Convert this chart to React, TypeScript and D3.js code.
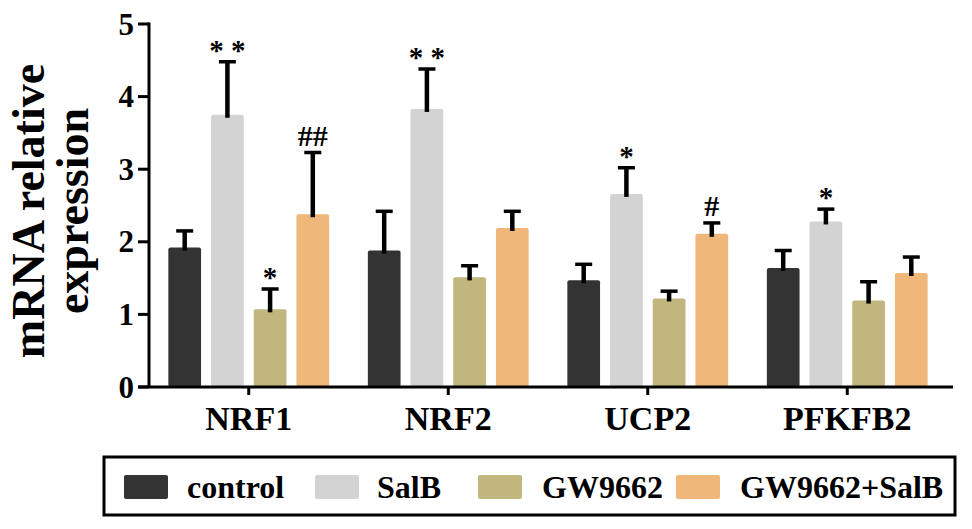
import React from "react";
import * as d3 from "d3";

const categories = ["NRF1", "NRF2", "UCP2", "PFKFB2"];
const groups = ["control", "SalB", "GW9662", "GW9662+SalB"];
const colors = ["#333333", "#d3d3d3", "#c1b67e", "#f0b77b"];
// mean values per group (rows) per category (columns)
const controlMeans = [1.92, 1.88, 1.47, 1.64];
const salbMeans = [3.75, 3.83, 2.66, 2.28];
const gwMeans = [1.07, 1.51, 1.22, 1.19];
const comboMeans = [2.38, 2.19, 2.11, 1.57];
// upper error bar ends
const controlErr = [2.15, 2.42, 1.69, 1.88];
const salbErr = [4.48, 4.38, 3.02, 2.45];
const gwErr = [1.35, 1.67, 1.32, 1.45];
const comboErr = [3.23, 2.42, 2.26, 1.79];
// significance marks
const controlSig = ["", "", "", ""];
const salbSig = ["* *", "* *", "*", "*"];
const gwSig = ["*", "", "", ""];
const comboSig = ["##", "", "#", ""];
const yTicks = [0, 1, 2, 3, 4, 5];
const yTitle = ["mRNA relative", "expression"];

const means = [controlMeans, salbMeans, gwMeans, comboMeans];
const errs = [controlErr, salbErr, gwErr, comboErr];
const sigs = [controlSig, salbSig, gwSig, comboSig];

const FONT = "'Liberation Serif', 'Times New Roman', serif";

export default function App() {
  const axisX = 149;
  const axisY0 = 387;
  const y = d3.scaleLinear().domain([0, 5]).range([387, 24]);
  const x0 = d3.scaleBand().domain(categories).range([149, 947]).paddingInner(0).paddingOuter(0);
  const inner = d3.scaleBand().domain(groups).range([-80.4, 80.4]).paddingInner(0.234).paddingOuter(0);
  const bw = inner.bandwidth();

  const legendSwatchX = [124, 315, 478, 676];
  const legendTextX = [187, 377, 542, 740];

  return (
    <svg
      width={972}
      height={529}
      style={{ position: "absolute", left: 0, top: 0, background: "#fff" }}
      fontFamily={FONT}
    >
      <rect x={0} y={0} width={972} height={529} fill="#fff" />
      {/* y title */}
      {yTitle.map((t, i) => (
        <text
          key={t}
          transform={`translate(${44 + i * 44},211) rotate(-90)`}
          textAnchor="middle"
          fontSize={46}
          fontWeight="bold"
          fill="#000"
        >
          {t}
        </text>
      ))}
      {/* bars */}
      {categories.map((c, ci) => (
        <g key={c}>
          {groups.map((g, gi) => {
            const bx = (x0(c) as number) + x0.bandwidth() / 2 + (inner(g) as number);
            const cx = bx + bw / 2;
            const v = means[gi][ci];
            const e = errs[gi][ci];
            const s = sigs[gi][ci];
            const isHash = s.includes("#");
            return (
              <g key={g}>
                <rect x={bx} y={y(v)} width={bw} height={axisY0 - y(v)} fill={colors[gi]} rx={2} />
                <line x1={cx} x2={cx} y1={y(v) + 3} y2={y(e)} stroke="#000" strokeWidth={4.5} />
                <line x1={cx - 8.5} x2={cx + 8.5} y1={y(e)} y2={y(e)} stroke="#000" strokeWidth={3.5} />
                {s && (
                  <text
                    x={cx}
                    y={isHash ? y(e) - 7 : y(e) - 2}
                    textAnchor="middle"
                    fontSize={isHash ? 30 : 29}
                    fontWeight="bold"
                    fill="#000"
                  >
                    {s}
                  </text>
                )}
              </g>
            );
          })}
        </g>
      ))}
      {/* axes */}
      <line x1={axisX} x2={axisX} y1={y(5) - 1.5} y2={axisY0} stroke="#000" strokeWidth={3} />
      <line x1={138} x2={953} y1={axisY0} y2={axisY0} stroke="#000" strokeWidth={3} />
      {yTicks.map((t) => (
        <g key={t}>
          <line x1={138} x2={axisX} y1={y(t)} y2={y(t)} stroke="#000" strokeWidth={3} />
          <text x={134} y={y(t) + 10.5} textAnchor="end" fontSize={31} fontWeight="bold" fill="#000">
            {t}
          </text>
        </g>
      ))}
      {categories.map((c) => {
        const cx = (x0(c) as number) + x0.bandwidth() / 2;
        return (
          <g key={c}>
            <line x1={cx} x2={cx} y1={axisY0} y2={395} stroke="#000" strokeWidth={3} />
            <text x={cx} y={430} textAnchor="middle" fontSize={34} fontWeight="bold" fill="#000">
              {c}
            </text>
          </g>
        );
      })}
      {/* legend */}
      <rect x={104} y={457} width={851} height={58} fill="#fff" stroke="#000" strokeWidth={3} />
      {groups.map((g, gi) => (
        <g key={g}>
          <rect x={legendSwatchX[gi]} y={475} width={44} height={24} rx={2} fill={colors[gi]} />
          <text x={legendTextX[gi]} y={498} fontSize={32} fontWeight="bold" fill="#000">
            {g}
          </text>
        </g>
      ))}
    </svg>
  );
}
